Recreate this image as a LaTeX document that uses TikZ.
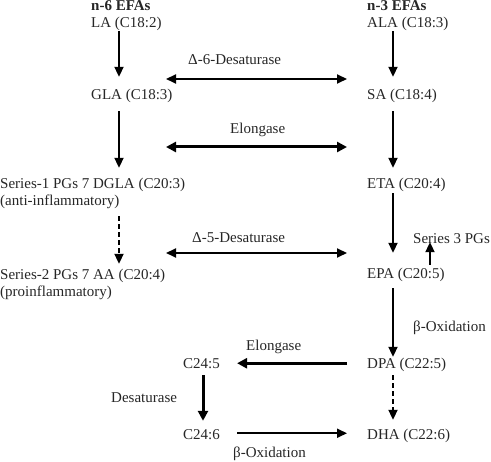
\documentclass[tikz,border=0pt]{standalone}
\usepackage{fontspec}
\setmainfont{Liberation Serif}
\usetikzlibrary{arrows.meta}
\begin{document}
\begin{tikzpicture}[x=1pt,y=-1pt,
  lbl/.style={anchor=base west,inner sep=0pt,text height=10.5pt,text depth=3pt,
    font=\fontsize{15}{17}\selectfont,text=black!85},
  arr/.style={line width=2pt,-{Triangle[width=9pt,length=10pt]}},
  thickarr/.style={line width=3pt,-{Triangle[width=10pt,length=10pt]}},
  dbl/.style={line width=2pt,{Triangle[width=9pt,length=10pt]}-{Triangle[width=9pt,length=10pt]}},
  thickdbl/.style={line width=3pt,{Triangle[width=10pt,length=10pt]}-{Triangle[width=10pt,length=10pt]}},
  dasharr/.style={arr,dash pattern=on 5pt off 3pt}]
\useasboundingbox (0,0) rectangle (491,462);
\coordinate (cl) at (119,0);
\coordinate (cr) at (393,0);
\coordinate (cs) at (430,0);
\coordinate (cm) at (203,0);
% left column
\node[lbl] (n6) at (91,10.5) {\textbf{n-6 EFAs}};
\node[lbl] (LA) at (91,28) {LA (C18:2)};
\node[lbl] (GLA) at (91,100) {GLA (C18:3)};
\node[lbl] (DGLA) at (0,189) {Series-1 PGs 7 DGLA (C20:3)};
\node[lbl] (anti) at (0,206) {(anti-inflammatory)};
\node[lbl] (AA) at (0,280) {Series-2 PGs 7 AA (C20:4)};
\node[lbl] (pro) at (0,297) {(proinflammatory)};
% right column
\node[lbl] (n3) at (367,10.5) {\textbf{n-3 EFAs}};
\node[lbl] (ALA) at (367,28) {ALA (C18:3)};
\node[lbl] (SA) at (367,100) {SA (C18:4)};
\node[lbl] (ETA) at (367,189) {ETA (C20:4)};
\node[lbl] (EPA) at (367,279) {EPA (C20:5)};
\node[lbl] (S3) at (413,244) {Series 3 PGs};
\node[lbl] (box1) at (413,332) {β-Oxidation};
\node[lbl] (DPA) at (367,369) {DPA (C22:5)};
\node[lbl] (DHA) at (367,440) {DHA (C22:6)};
% bottom branch
\node[lbl] (C245) at (183,369) {C24:5};
\node[lbl] (C246) at (183,440) {C24:6};
\node[lbl] (elo2) at (246,351) {Elongase};
\node[lbl] (desat) at (111,403) {Desaturase};
\node[lbl] (box2) at (233,458) {β-Oxidation};
% enzyme labels
\node[lbl] (d6) at (188,65) {Δ-6-Desaturase};
\node[lbl] (elo1) at (230,134) {Elongase};
\node[lbl] (d5) at (192,243) {Δ-5-Desaturase};
\coordinate (d6l) at (166,79);
\coordinate (d6r) at (347,79);
\coordinate (e1l) at (166,147);
\coordinate (e1r) at (347,147);
\coordinate (d5l) at (166,253);
\coordinate (d5r) at (347,253);
% vertical arrows left
\draw[arr,shorten >=12.5pt] (LA.south -| cl) -- (GLA.north -| cl);
\draw[arr,shorten <=8pt,shorten >=10.5pt] (GLA.south -| cl) -- (DGLA.north -| cl);
\draw[dasharr,shorten <=7pt,shorten >=5.5pt] (anti.south -| cl) -- (AA.north -| cl);
% vertical arrows right
\draw[arr,shorten >=12.5pt] (ALA.south -| cr) -- (SA.north -| cr);
\draw[arr,shorten <=8pt,shorten >=10.5pt] (SA.south -| cr) -- (ETA.north -| cr);
\draw[arr,shorten <=1pt,shorten >=15.5pt] (ETA.south -| cr) -- (EPA.north -| cr);
\draw[arr,shorten <=3.5pt,shorten >=-5pt] (EPA.north -| cs) -- (S3.south -| cs);
\draw[arr,shorten <=6pt,shorten >=1.5pt] (EPA.south -| cr) -- (DPA.north -| cr);
\draw[dasharr,shorten <=3pt,shorten >=9.5pt] (DPA.south -| cr) -- (DHA.north -| cr);
% bottom branch arrows
\draw[thickarr,shorten <=20pt,shorten >=17pt] ([yshift=2pt]DPA.west) -- ([yshift=2pt]C245.east);
\draw[thickarr,shorten <=3pt,shorten >=8.5pt] (C245.south -| cm) -- (C246.north -| cm);
\draw[arr,shorten <=17pt,shorten >=20pt] ([yshift=3pt]C246.east) -- ([yshift=3pt]DHA.west);
% enzyme double arrows
\draw[dbl] (d6l) -- (d6r);
\draw[thickdbl] (e1l) -- (e1r);
\draw[dbl] (d5l) -- (d5r);
\end{tikzpicture}
\end{document}
